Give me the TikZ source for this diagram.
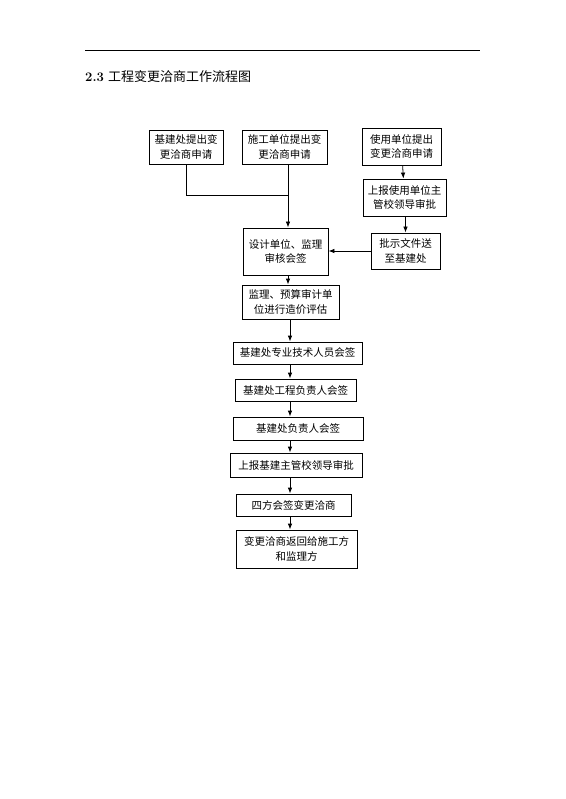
\documentclass[tikz,border=0pt]{standalone}
\usepackage{fontspec}
\newfontfamily\cjk{Noto Sans CJK SC}
\usetikzlibrary{arrows.meta}
\begin{document}
\begin{tikzpicture}[x=1pt,y=-1pt,
  box/.style={draw,line width=0.8pt,font=\cjk\fontsize{10.5}{14.5}\selectfont,align=center,inner sep=0pt},
  arr/.style={line width=0.8pt,-{Latex[length=6pt,width=4.5pt]}},
  ln/.style={line width=0.8pt}]
\useasboundingbox (0,0) rectangle (565,799);
\draw[line width=0.7pt] (85,50) -- (480,50);
\node[anchor=west,inner sep=0pt] (title) at (85,77) {\fontsize{13}{15}\selectfont\textbf{2.3}\ \cjk 工程变更洽商工作流程图};
% boxes: (left,top) to (right,bottom)
\newcommand\mybox[6]{\node[box,minimum width={#4-#2},minimum height={#5-#3}] (#1) at ({(#2+#4)/2},{(#3+#5)/2}) {#6};}
\mybox{b1}{149}{130}{223}{164}{基建处提出变\\更洽商申请}
\mybox{b2}{242}{130}{327}{164}{施工单位提出变\\更洽商申请}
\mybox{b3}{362}{128}{441}{165}{使用单位提出\\变更洽商申请}
\mybox{b4}{363}{179}{446}{216}{上报使用单位主\\管校领导审批}
\mybox{b5}{371}{233}{440}{269}{批示文件送\\至基建处}
\mybox{b6}{243}{228}{328}{275}{设计单位、监理\\审核会签}
\mybox{b7}{242}{285}{339}{319}{监理、预算审计单\\位进行造价评估}
\mybox{b8}{233}{342}{362}{364}{基建处专业技术人员会签}
\mybox{b9}{235}{379}{356}{401}{基建处工程负责人会签}
\mybox{b10}{233}{417}{363}{440}{基建处负责人会签}
\mybox{b11}{230}{453}{362}{477}{上报基建主管校领导审批}
\mybox{b12}{236}{494}{351}{516}{四方会签变更洽商}
\mybox{b13}{236}{530}{357}{568}{变更洽商返回给施工方\\和监理方}
\coordinate (j) at (288,195);
\coordinate (ax) at (290,0);
\draw[ln] (b1.south) |- (j);
\draw[arr] (b2.south -| j) -- (b6.north -| j);
\draw[arr] (b3) -- (b4);
\draw[arr] (b4.south -| b5) -- (b5.north);
\draw[arr] (b5.west) -- (b6.east |- b5.west);
\draw[arr] (b6.south -| j) -- (b7.north -| j);
\draw[arr] (b7.south -| ax) -- (b8.north -| ax);
\draw[arr] (b8.south -| ax) -- (b9.north -| ax);
\draw[arr] (b9.south -| ax) -- (b10.north -| ax);
\draw[arr] (b10.south -| ax) -- (b11.north -| ax);
\draw[arr] (b11.south -| ax) -- (b12.north -| ax);
\draw[arr] (b12.south -| ax) -- (b13.north -| ax);
\end{tikzpicture}
\end{document}
